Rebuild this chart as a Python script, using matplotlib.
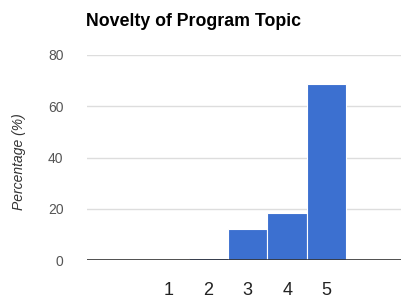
import matplotlib
matplotlib.use("Agg")
import matplotlib.pyplot as plt

categories = ["1", "2", "3", "4", "5"]
values = [0.0, 0.7, 12.1, 18.4, 68.8]
yticks = [0, 20, 40, 60, 80]
title = "Novelty of Program Topic"
ylabel = "Percentage (%)"

plt.rcParams['font.family'] = ['Liberation Sans', 'DejaVu Sans']

W, H = 401, 302
fig = plt.figure(figsize=(W / 100, H / 100), dpi=100)
ax = fig.add_axes([87 / W, 1 - 260 / H, 1 - 87 / W, (260 - 55) / H])

x = list(range(1, len(categories) + 1))
ax.bar(x, values, width=1.0, color="#3c70d0", edgecolor="white", linewidth=0.8, zorder=3)

ax.set_xlim(-1.08, 6.89)
ax.set_ylim(0, 80)
ax.set_yticks(yticks)
ax.set_yticklabels([str(t) for t in yticks], color="#555555", fontsize=10)
ax.tick_params(axis="y", length=0, pad=17)
ax.set_xticks(x)
ax.set_xticklabels(categories, fontsize=13, color="#222222")
ax.tick_params(axis="x", length=0, pad=16)
ax.grid(axis="y", color="#dddddd", linewidth=1, zorder=0)
ax.axhline(0, color="#333333", linewidth=1.2, zorder=4)
for s in ax.spines.values():
    s.set_visible(False)

fig.text(86 / W, 1 - 22 / H, title, fontsize=12.8, fontweight="bold", ha="left", va="center", color="#000000")
fig.text(19 / W, 1 - 162 / H, ylabel, fontsize=10, style="italic", rotation=90, ha="center", va="center", color="#333333")

fig.savefig("out.png", dpi=100)
